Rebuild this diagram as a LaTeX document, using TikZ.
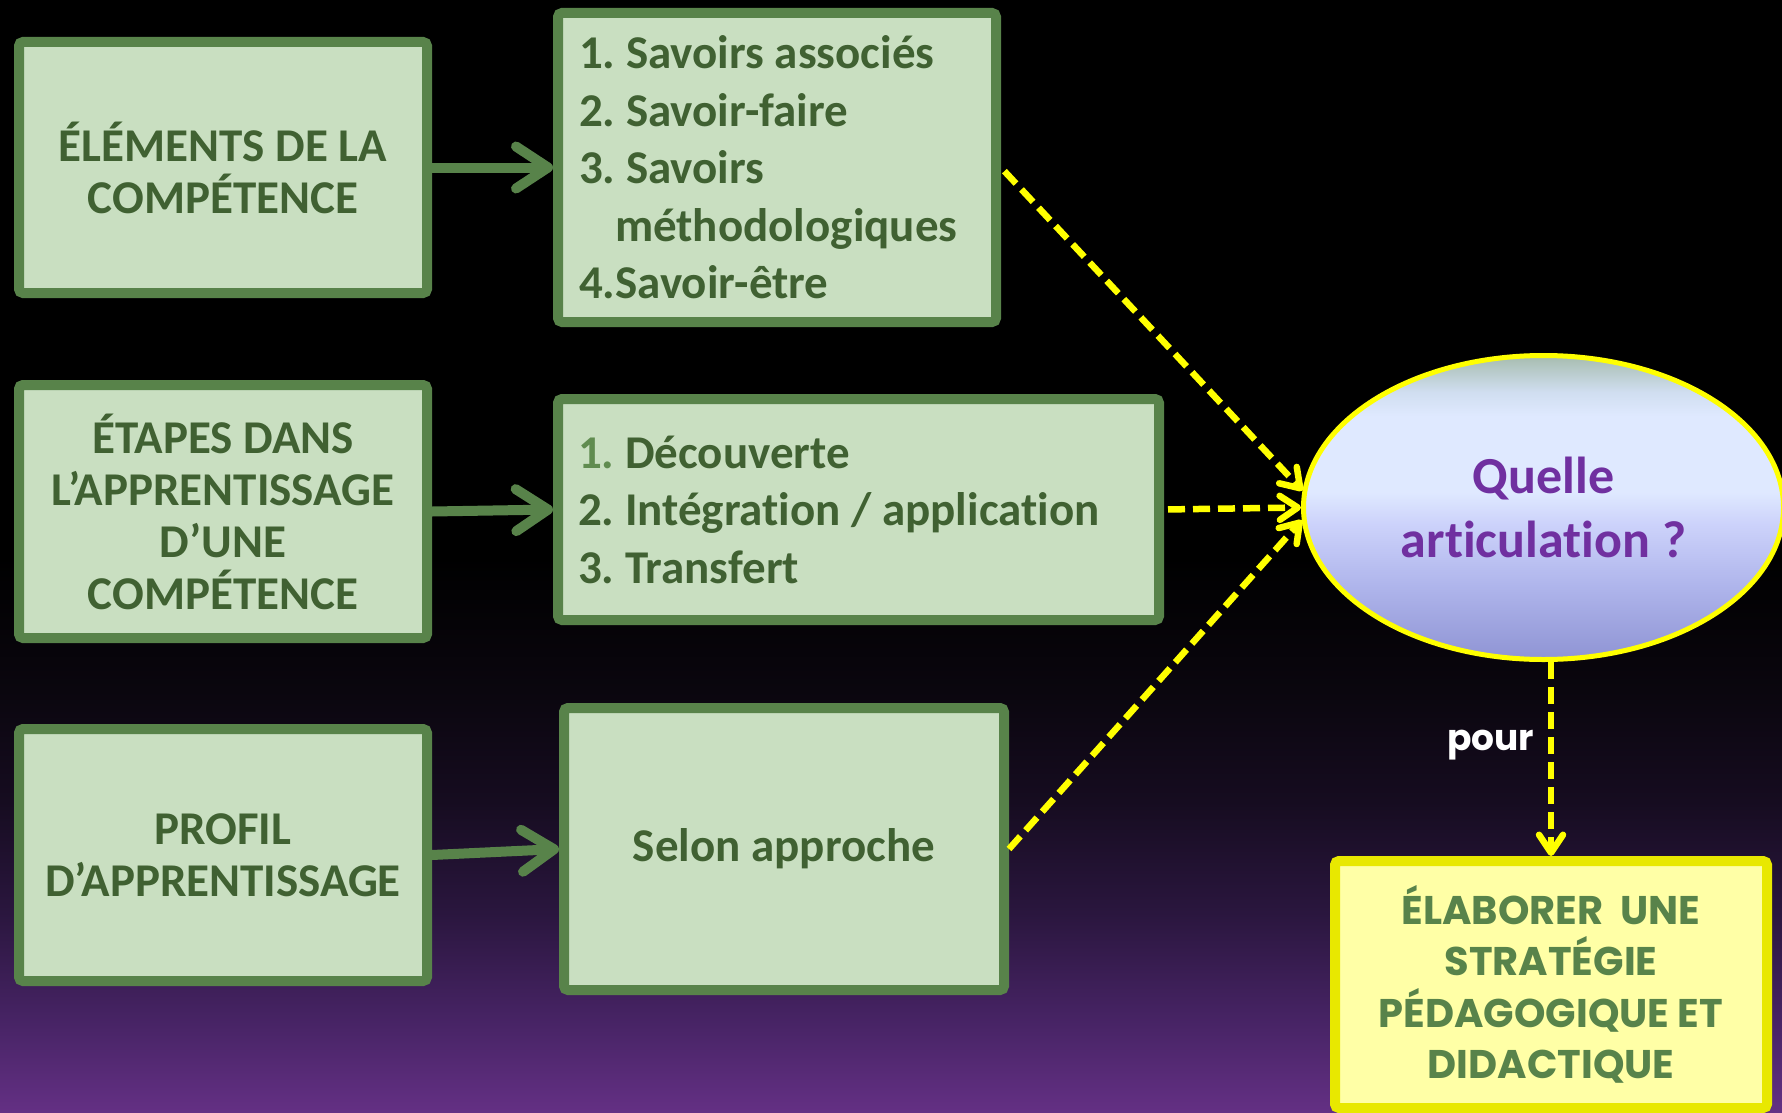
\documentclass[tikz,border=0pt]{standalone}
\usepackage{fontspec}
\setmainfont{Carlito}[Ligatures=NoCommon]
\newfontfamily\popfont{Poppins}
\usetikzlibrary{shapes.geometric,arrows.meta}
\definecolor{bgreen}{RGB}{88,131,74}
\definecolor{fgreen}{RGB}{201,223,193}
\definecolor{tgreen}{RGB}{64,97,50}
\definecolor{lgreen}{RGB}{96,140,80}
\definecolor{ylw}{RGB}{255,255,0}
\definecolor{gborder}{RGB}{232,232,0}
\definecolor{gfill}{RGB}{255,255,166}
\definecolor{purp}{RGB}{112,48,160}
\definecolor{bgtwo}{RGB}{10,6,14}
\definecolor{bgthree}{RGB}{22,12,32}
\definecolor{bgfour}{RGB}{42,22,62}
\definecolor{bgfive}{RGB}{72,36,102}
\definecolor{bgsix}{RGB}{100,48,132}
\definecolor{etwo}{RGB}{166,188,174}
\definecolor{ethree}{RGB}{208,222,240}
\definecolor{efour}{RGB}{223,233,255}
\definecolor{efive}{RGB}{205,211,251}
\definecolor{esix}{RGB}{176,182,236}
\definecolor{eseven}{RGB}{143,148,212}
\pgfdeclareverticalshading{bgshade}{100bp}{color(0bp)=(bgsix); color(25bp)=(bgsix); color(29bp)=(bgfive); color(34bp)=(bgfour); color(39bp)=(bgthree); color(44bp)=(bgtwo); color(50bp)=(black); color(100bp)=(black)}
\pgfdeclareverticalshading{ellshade}{100bp}{color(0bp)=(eseven); color(25bp)=(eseven); color(37.5bp)=(esix); color(47.5bp)=(efive); color(52.5bp)=(efour); color(65bp)=(efour); color(69bp)=(ethree); color(75bp)=(etwo); color(100bp)=(etwo)}
\frenchspacing
\begin{document}
\begin{tikzpicture}[x=1pt,y=-1pt,
  box/.style={draw=bgreen, fill=fgreen, line width=10pt, rounded corners=4pt, inner sep=0pt, text=tgreen, font=\fontsize{47}{52}\selectfont\bfseries, align=center},
  listbox/.style={box, align=flush left, font=\fontsize{47}{57.5}\selectfont\bfseries\frenchspacing},
  garrow/.style={draw=bgreen, line width=10pt, -{Straight Barb[length=32pt,width=42pt,round]}},
  yarrow/.style={draw=ylw, line width=6.5pt, dash pattern=on 17pt off 8pt, -{Straight Barb[length=18pt,width=24pt,round]}},
]
\useasboundingbox (0,0) rectangle (1782,1113);
\clip (0,0) rectangle (1782,1113);
\fill[shading=bgshade] (0,0) rectangle (1782,1113);

\node[box, minimum width=408pt, minimum height=251pt] (A) at (223,167.5) {ÉLÉMENTS DE LA\\COMPÉTENCE};
\node[listbox, text width=396pt, inner xsep=21pt, minimum height=309pt] (B) at (777,167.5) {1. Savoirs associés\\2. Savoir-faire\\3. Savoirs\\\mbox{\hspace*{36pt}méthodologiques}\\4.Savoir-être};
\node[box, minimum width=408pt, minimum height=253pt] (C) at (223,511.5) {ÉTAPES DANS\\L’APPRENTISSAGE\\D’UNE\\COMPÉTENCE};
\node[listbox, text width=561pt, inner xsep=20pt, minimum height=221pt] (D) at (858.5,509.5) {{\color{lgreen}1.} Découverte\\2. Intégration / application\\3. Transfert};
\node[box, minimum width=408pt, minimum height=252pt] (E) at (223,855) {PROFIL\\D’APPRENTISSAGE};
\node[box, minimum width=440pt, minimum height=282pt] (F) at (784,849) {Selon approche};

\node[ellipse, draw=ylw, line width=5pt, shading=ellshade, minimum width=480pt, minimum height=304pt, inner sep=0pt, text=purp, font=\fontsize{52}{64}\selectfont\bfseries, align=center] (ell) at (1543.5,507.5) {Quelle\\articulation ?};

\node[draw=gborder, fill=gfill, line width=10pt, rounded corners=4pt, minimum width=432pt, minimum height=247pt, inner sep=0pt, text=bgreen, font={\popfont\fontsize{40}{51.5}\selectfont\bfseries}, align=center] (G) at (1551,984.5) {ÉLABORER\ \ UNE\\STRATÉGIE\\PÉDAGOGIQUE ET\\DIDACTIQUE};

\node[text=white, font={\popfont\fontsize{36}{40}\selectfont\bfseries}, anchor=base west, inner sep=0pt] (pourlbl) at (1447,750) {pour};

\draw[garrow] (A.east) -- (B.west);
\draw[garrow] (C.east) -- (D.west);
\draw[garrow] (E.east) -- (F.west);
\draw[yarrow, shorten <=5pt] (B.east) -- (ell.176);
\draw[yarrow, shorten <=4pt] (D.east) -- (ell.west);
\draw[yarrow] (F.east) -- (ell.183);
\draw[yarrow] (ell.south -| G.north) -- (G.north);
\end{tikzpicture}
\end{document}
